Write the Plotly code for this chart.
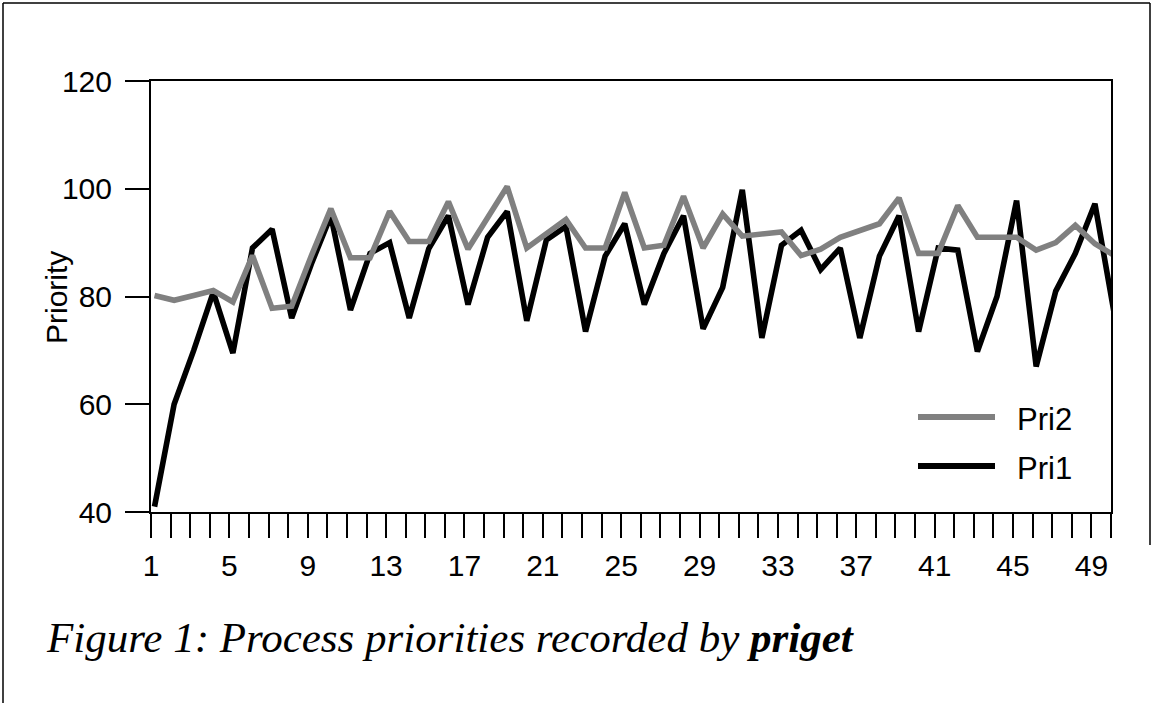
import plotly.graph_objects as go

# ---- data -------------------------------------------------------------
samples = list(range(1, 51))
pri1 = [41, 60, 70, 80.8, 69.5, 89, 92.5, 76, 86, 95,
        77.5, 88, 90, 76, 88.9, 95, 78.5, 91, 95.8, 75.5,
        90.5, 93, 73.5, 87.5, 93.5, 78.5, 88, 95, 74, 81.7,
        99.8, 72.3, 89.5, 92.3, 85, 89, 72.3, 87.5, 95, 73.5,
        89, 88.6, 69.8, 80, 97.8, 67, 81, 88, 97.2, 76.5]
pri2 = [80.2, 79.3, 80.2, 81.1, 79, 87.6, 77.8, 78.2, 87.5, 96.3,
        87.2, 87.2, 95.8, 90.2, 90.2, 97.6, 88.8, 94.6, 100.4, 89,
        91.5, 94.3, 89, 89, 99.3, 89, 89.5, 98.6, 89, 95.3,
        91.2, 91.6, 92, 87.6, 88.8, 91, 92.3, 93.5, 98.3, 88,
        88, 96.9, 91, 91, 91, 88.6, 90, 93.2, 89.8, 87.6]
series_names = ["Pri1", "Pri2"]
series_colors = ["#000000", "#808080"]
tick_labels = [str(v) if (v - 1) % 4 == 0 else "" for v in samples]

# in the source the tick marks sit slightly left of the plotted points
TICK_SHIFT = 0.18
tick_positions = [v - TICK_SHIFT for v in samples]

FONT = "Arial, 'Liberation Sans', sans-serif"
SERIF = "'Times New Roman', 'Liberation Serif', serif"

W, H = 1152, 703
L, R, T, B = 151, 41, 81, 191

fig = go.Figure()
for name, ys, col in zip(series_names, [pri1, pri2], series_colors):
    fig.add_trace(go.Scatter(x=samples, y=ys, name=name, mode="lines",
                             line=dict(color=col, width=5.6),
                             showlegend=False))

fig.update_layout(
    width=W, height=H,
    margin=dict(l=L, r=R, t=T, b=B, pad=0),
    paper_bgcolor="white", plot_bgcolor="white",
    font=dict(family=FONT, size=30, color="black"),
    showlegend=False,
    xaxis=dict(range=[1 - TICK_SHIFT, 50 - TICK_SHIFT],
               tickmode="array", tickvals=tick_positions, ticktext=tick_labels,
               ticks="outside", ticklen=24, tickwidth=2, tickcolor="black",
               showline=True, linecolor="black", linewidth=2, mirror=True,
               showgrid=False, zeroline=False, ticklabelstandoff=2,
               tickfont=dict(size=30)),
    yaxis=dict(range=[40, 120], dtick=20, tick0=40,
               ticks="outside", ticklen=24, tickwidth=2, tickcolor="black",
               showline=True, linecolor="black", linewidth=2, mirror=True,
               showgrid=False, zeroline=False, ticklabelstandoff=7,
               tickfont=dict(size=30)),
)


def px_x(p):
    return (p - L) / (W - L - R)


def px_y(p):
    return (H - B - p) / (H - T - B)


# y axis title
fig.add_annotation(text="Priority", textangle=-90, showarrow=False,
                   xref="paper", yref="paper", x=px_x(56.5), y=px_y(297.5),
                   xanchor="center", yanchor="middle",
                   font=dict(size=30, family=FONT))

# legend (drawn by hand to reproduce the long sample lines)
legend_rows = [("Pri2", series_colors[1], 417), ("Pri1", series_colors[0], 466)]
for label, col, yy in legend_rows:
    fig.add_shape(type="line", xref="paper", yref="paper",
                  x0=px_x(918), x1=px_x(995), y0=px_y(yy), y1=px_y(yy),
                  line=dict(color=col, width=6))
    fig.add_annotation(text=label, showarrow=False, xref="paper", yref="paper",
                       x=px_x(1015), y=px_y(yy + 2), xanchor="left",
                       yanchor="middle", font=dict(size=31, family=FONT))

# caption
fig.add_annotation(
    text="Figure 1: Process priorities recorded by <b>priget</b>",
    showarrow=False, xref="paper", yref="paper",
    x=px_x(44), y=px_y(637), xanchor="left", yanchor="middle",
    font=dict(size=43, family=SERIF, style="italic"))

# page frame lines
frame = dict(type="line", xref="paper", yref="paper",
             line=dict(color="black", width=1.5))
fig.add_shape(x0=px_x(3), x1=px_x(1150), y0=px_y(3), y1=px_y(3), **frame)
fig.add_shape(x0=px_x(3), x1=px_x(3), y0=px_y(3), y1=px_y(703), **frame)
fig.add_shape(x0=px_x(1150), x1=px_x(1150), y0=px_y(3), y1=px_y(545), **frame)

fig.write_html("out.html",
               config={"displayModeBar": False},
               post_script="document.body.style.margin='0';"
                           "document.body.style.overflow='hidden';")
